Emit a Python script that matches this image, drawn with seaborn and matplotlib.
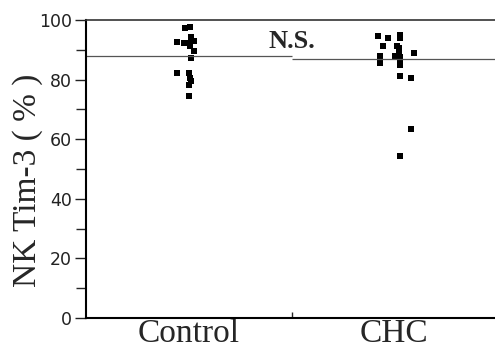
import numpy as np
import pandas as pd
import seaborn as sns
import matplotlib
matplotlib.use("Agg")
import matplotlib.pyplot as plt

# ---- data ----
groups = ["Control", "CHC"]
control_values = [97.3, 97.7, 94.3, 92.6, 92.3, 92.3, 93.0, 91.3, 89.6, 87.2,
                  82.2, 82.2, 80.5, 79.5, 78.2, 74.5]
control_jitter = [-0.017, 0.007, 0.012, -0.056, -0.022, -0.002, 0.027, 0.007,
                  0.027, 0.012, -0.056, 0.002, 0.007, 0.012, 0.002, 0.002]
chc_values = [94.6, 94.0, 95.0, 94.0, 91.3, 91.3, 90.6, 89.3, 88.9, 87.9,
              87.9, 87.6, 85.6, 85.9, 84.9, 81.2, 80.5, 63.4, 54.4]
chc_jitter = [-0.078, -0.029, 0.029, 0.029, -0.054, 0.015, 0.024, 0.024, 0.097,
              -0.068, 0.005, 0.029, -0.068, 0.029, 0.029, 0.029, 0.083, 0.083, 0.029]
mean_lines = [88.0, 87.0]
y_ticks = [0, 20, 40, 60, 80, 100]
annotation = "N.S."

df = pd.DataFrame({
    "group": ["Control"] * len(control_values) + ["CHC"] * len(chc_values),
    "value": control_values + chc_values,
    "jitter": control_jitter + chc_jitter,
})
df["xpos"] = df["group"].map({g: i for i, g in enumerate(groups)}) + df["jitter"]

sns.set_style("ticks")
plt.rcParams["font.family"] = ["DejaVu Sans"]

fig = plt.figure(figsize=(4.95, 3.5), dpi=100)
ax = fig.add_axes([86 / 495, 32 / 350, 411 / 495, 298 / 350])

sns.scatterplot(data=df, x="xpos", y="value", marker="s", s=13,
                color="black", linewidth=0, ax=ax, legend=False)

for i, m in enumerate(mean_lines):
    ax.hlines(m, i - 0.5, i + 0.5, color="#555555", linewidth=0.9, zorder=1)

ax.set_xlim(-0.5, 1.5)
ax.set_ylim(0, 100)
ax.set_xticks(range(len(groups)))
ax.set_xticklabels(groups, family="Liberation Serif", fontsize=24)
ax.tick_params(axis="x", length=0, pad=0)
ax.set_xticks([0.5], minor=True)
ax.tick_params(axis="x", which="minor", direction="in", length=4, width=1)
ax.set_xlabel("")

ax.set_yticks(y_ticks)
ax.set_yticks([10, 30, 50, 70, 90], minor=True)
ax.tick_params(axis="y", which="major", direction="out", length=8, width=1,
               labelsize=12.5, pad=2, colors="#222222")
ax.tick_params(axis="y", which="minor", direction="out", length=7, width=1)
ax.set_ylabel("NK Tim-3 ( % )", family="Liberation Serif", fontsize=24)
ax.yaxis.set_label_coords(-0.105, 0.463)

for side in ["left", "bottom"]:
    ax.spines[side].set_linewidth(1.5)
    ax.spines[side].set_color("black")
ax.spines["top"].set_linewidth(1.2)
ax.spines["top"].set_color("#333333")
ax.spines["right"].set_visible(False)

ax.text(0.5, 89.0, annotation, ha="center", va="bottom",
        family="Liberation Serif", fontweight="bold", fontsize=19)

fig.savefig("out.png", dpi=100)
